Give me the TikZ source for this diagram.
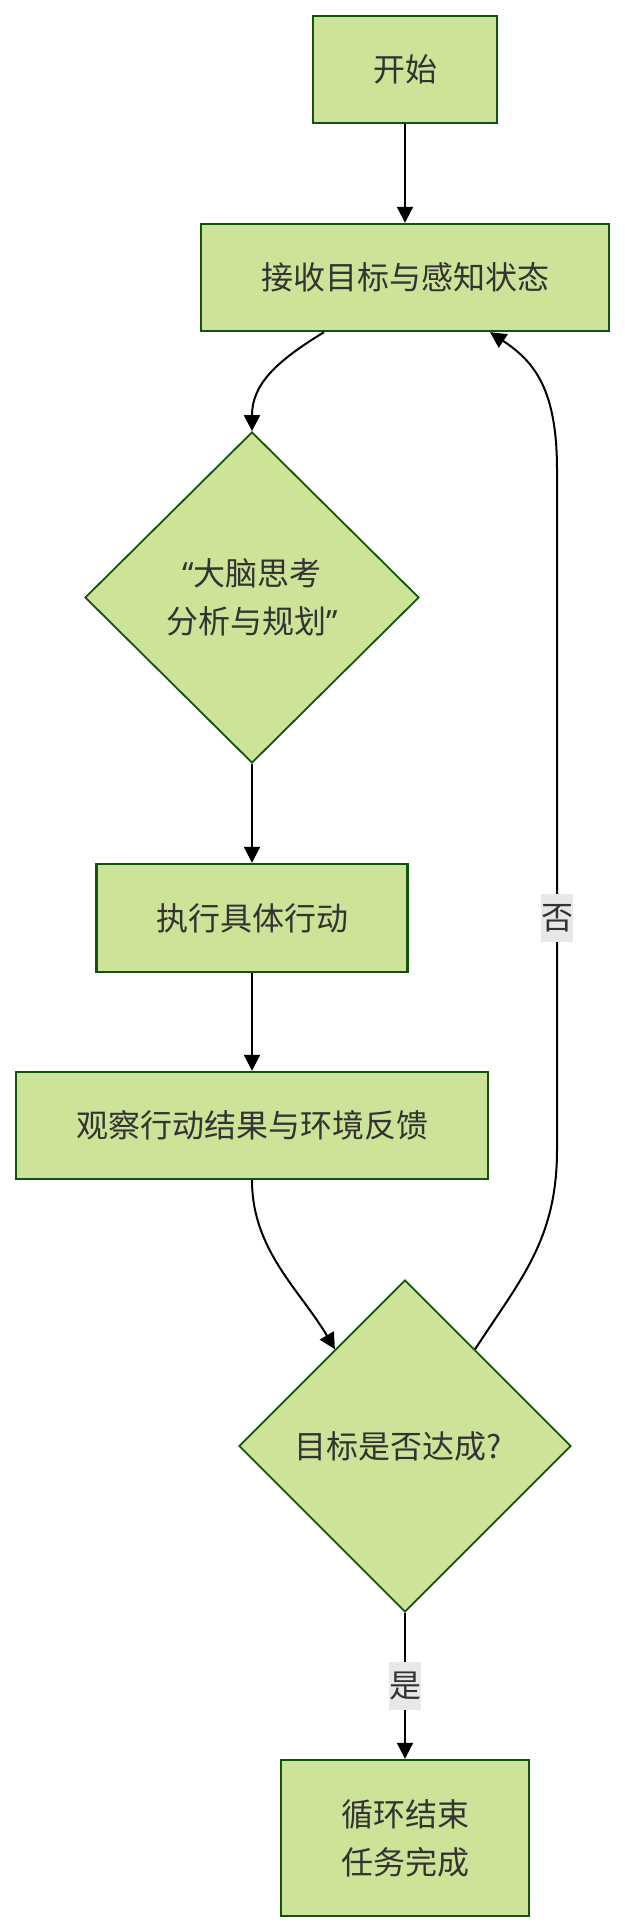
\documentclass[tikz,border=0pt]{standalone}
\usepackage{fontspec}
\newfontfamily\cjk{Noto Sans CJK SC}
\newfontfamily\latin{Noto Sans}
\usetikzlibrary{shapes.geometric,arrows.meta,calc}
\definecolor{nodefill}{HTML}{CDE498}
\definecolor{nodeline}{HTML}{13540C}
\definecolor{txt}{HTML}{333333}
\definecolor{lblbg}{HTML}{E8E8E8}
\begin{document}
\begin{tikzpicture}[x=0.5pt,y=-0.5pt,
  nodefont/.style={font=\cjk\fontsize{16pt}{24pt}\selectfont},
  proc/.style={rectangle,draw=nodeline,fill=nodefill,line width=1.2pt,inner sep=0pt,text=txt,nodefont,align=center},
  decision/.style={diamond,draw=nodeline,fill=nodefill,line width=0.9pt,inner sep=0pt,text=txt,nodefont,align=center},
  edge/.style={draw=black,line width=1pt,-{Triangle[length=8pt,width=8pt]}},
  elabel/.style={fill=lblbg,inner sep=0pt,minimum width=16pt,minimum height=24pt,text=txt,nodefont}]
\useasboundingbox[fill=white] (0,0) rectangle (625,1932);

\node[proc,minimum width=92pt,minimum height=53.5pt] (start) at (405,69.5) {开始};
\node[proc,minimum width=204pt,minimum height=53.5pt] (recv) at (405,277.5) {接收目标与感知状态};
\node[decision,minimum width=167pt,minimum height=165.5pt] (think) at (252,597.5) {{\latin “}大脑思考\\分析与规划{\latin ”}};
\node[proc,minimum width=155.5pt,minimum height=54pt] (act) at (252,918) {执行具体行动};
\node[proc,minimum width=236pt,minimum height=53.5pt] (obs) at (252,1125.5) {观察行动结果与环境反馈};
\node[decision,minimum width=166pt,minimum height=166pt] (goal) at (405,1446) {目标是否达成?\hspace*{7pt}};
\node[proc,minimum width=124pt,minimum height=78pt] (done) at (405,1838) {循环结束\\任务完成};

\coordinate (gin) at ($(goal.north)!0.42!(goal.west)$);
\coordinate (gout) at ($(goal.north)!0.42!(goal.east)$);
\coordinate (lowbend) at (557,1150);
\coordinate (highbend) at (557,470);

\draw[edge] (start) -- (recv);
\draw[edge] ([xshift=-40.5pt]recv.south) .. controls (275,362) and (252,385) .. (think.north);
\draw[edge] (think) -- (act);
\draw[edge] (act) -- (obs);
\draw[edge] (obs.south) .. controls (252,1250) and (300,1290) .. (gin);
\draw[edge] (gout) .. controls (520,1280) and (557,1240) .. (lowbend) -- (highbend) .. controls (557,390) and (535,362) .. ([xshift=42.5pt]recv.south);
\draw[edge] (goal) -- (done);

\node[elabel] (no) at (557,918) {否};
\node[elabel] (yes) at (405,1686) {是};
\end{tikzpicture}
\end{document}
